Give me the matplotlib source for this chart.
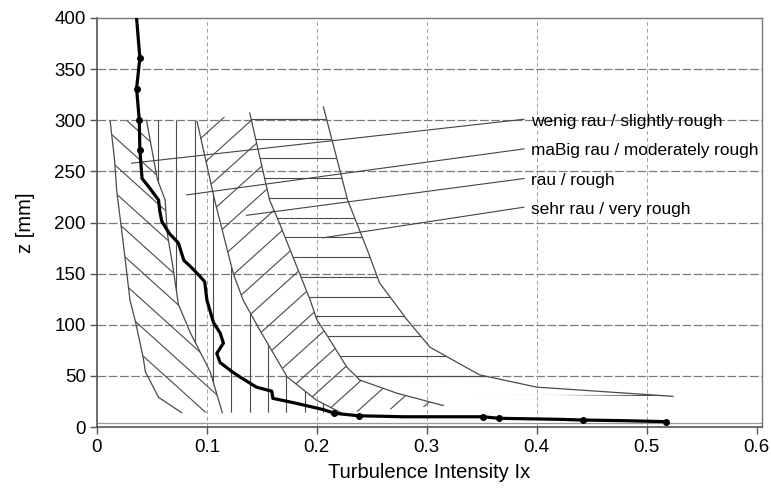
import numpy as np
import matplotlib
matplotlib.use('Agg')
import matplotlib.pyplot as plt
from matplotlib.patches import Polygon
from matplotlib.collections import LineCollection

plt.rcParams['font.family'] = ['Liberation Sans', 'DejaVu Sans']

# Boundary curves of the roughness classes (z [mm], Ix)
z_a = [299, 261, 230, 222, 170, 124, 103, 68, 54, 29, 14]
ix_a = [0.012, 0.016, 0.018, 0.019, 0.025, 0.030, 0.035, 0.042, 0.044, 0.056, 0.077]

z_b = [300, 242, 222, 189, 157, 120, 92, 54, 14]
ix_b = [0.045, 0.055, 0.062, 0.064, 0.069, 0.074, 0.085, 0.103, 0.114]

z_c = [299, 222, 150, 124, 95, 49, 26, 14]
ix_c = [0.091, 0.107, 0.124, 0.133, 0.148, 0.173, 0.200, 0.222]

z_d = [307, 222, 202, 124, 105, 85, 59, 46, 33, 21]
ix_d = [0.139, 0.157, 0.165, 0.194, 0.200, 0.212, 0.227, 0.239, 0.273, 0.315]

z_e = [313, 222, 173, 141, 105, 78, 51, 39, 30]
ix_e = [0.206, 0.228, 0.246, 0.257, 0.282, 0.303, 0.348, 0.400, 0.524]

# Measured profile
ix_meas = [0.036, 0.039, 0.036, 0.0385, 0.039, 0.041, 0.047, 0.056, 0.057,
           0.059, 0.066, 0.074, 0.079, 0.085, 0.094, 0.098, 0.100, 0.106,
           0.112, 0.115, 0.109, 0.112, 0.123, 0.130, 0.145, 0.159, 0.160,
           0.169, 0.182, 0.194, 0.206, 0.216, 0.238, 0.279, 0.351, 0.366,
           0.421, 0.442, 0.479, 0.518]
z_meas = [400, 361, 331, 300, 271, 243, 235, 222, 212,
          201, 189, 180, 163, 157, 147, 142, 124, 102,
          92, 82, 72, 63, 54, 49, 39, 35, 28,
          26, 23, 20, 17, 13.4, 11, 10, 10, 8.5,
          7.5, 6.8, 6.2, 5.2]
ix_dots = [0.039, 0.036, 0.0385, 0.039, 0.216, 0.238, 0.351, 0.366, 0.442, 0.518]
z_dots = [361, 331, 300, 271, 13.4, 11, 10, 8.5, 6.8, 5.2]

labels = ['wenig rau / slightly rough', 'maBig rau / moderately rough',
          'rau / rough', 'sehr rau / very rough']
label_z = [299, 270, 241, 213]
pointer_ix = [0.0315, 0.0815, 0.136, 0.2055]
pointer_z = [258, 227, 207, 185]

xticks = [0, 0.1, 0.2, 0.3, 0.4, 0.5, 0.6]
xticklabels = ['0', '0.1', '0.2', '0.3', '0.4', '0.5', '0.6']
yticks = list(range(0, 401, 50))

line_col = '#4a4a4a'

fig = plt.figure(figsize=(7.71, 4.97), dpi=100)
ax = fig.add_axes([97 / 771, 1 - 427 / 497, 665 / 771, 409 / 497])
ax.set_xlim(0, 0.605)
ax.set_ylim(0, 400)

# grid
for z in range(50, 351, 50):
    ax.axhline(z, color='#7a7a7a', lw=0.9, ls=(0, (7, 2)), zorder=1)
ax.axhline(4, color='#9a9a9a', lw=0.9, zorder=1)
for x in xticks[1:-1]:
    ax.axvline(x, color='#a0a0a0', lw=0.7, ls=(0, (4, 3)), zorder=1)


def region(ix_left, z_left, ix_right, z_right):
    verts = list(zip(ix_left, z_left)) + list(zip(ix_right, z_right))[::-1]
    poly = Polygon(verts, closed=True, fill=False, edgecolor='none')
    ax.add_patch(poly)
    return poly


def hatch(poly, kind, step):
    segs = []
    if kind == '-':
        for z in np.arange(31, 330, step):
            segs.append([(0, z), (0.6, z)])
    elif kind == '|':
        for x in np.arange(0.0555, 0.6, step):
            segs.append([(x, 0), (x, 400)])
    else:
        m = -968 if kind == '\\' else 968
        for c in np.arange(-700, 800, step):
            segs.append([(0, c), (0.6, c + m * 0.6)])
    lc = LineCollection(segs, colors=line_col, linewidths=0.8, zorder=2)
    ax.add_collection(lc)
    lc.set_clip_path(poly)


r1 = region(ix_a, z_a, ix_b, z_b)
r2 = region(ix_b, z_b, ix_c, z_c)
r3 = region(ix_c, z_c, ix_d, z_d)
r4 = region(ix_d[:-1], z_d[:-1], ix_e, z_e)
hatch(r1, '\\', 27)
hatch(r2, '|', 0.0167)
hatch(r3, '/', 27)
hatch(r4, '-', 19.3)

for ix, z in [(ix_a, z_a), (ix_b, z_b), (ix_c, z_c), (ix_d, z_d), (ix_e, z_e)]:
    ax.plot(ix, z, color=line_col, lw=0.9, zorder=3)

# measured profile
ax.plot(ix_meas, z_meas, color='black', lw=2.3, zorder=5, solid_joinstyle='round')
ax.plot(ix_dots, z_dots, 'o', color='black', ms=4, zorder=6)

# labels with leader lines
for text, zl, px, pz in zip(labels, label_z, pointer_ix, pointer_z):
    ax.plot([0.3885, px], [zl + 2, pz], color='#444444', lw=0.8, zorder=4)
    ax.text(0.3945, zl, text, fontsize=12.4, va='center', ha='left', zorder=7)

ax.set_xticks(xticks)
ax.set_xticklabels(xticklabels)
ax.set_yticks(yticks)
ax.tick_params(direction='out', length=5, width=1, color='#555555',
               labelsize=13.5, pad=3)
ax.tick_params(axis='x', pad=4)

for side in ['left', 'bottom']:
    ax.spines[side].set_color('#555555')
    ax.spines[side].set_linewidth(1.2)
for side in ['top', 'right']:
    ax.spines[side].set_color('#777777')
    ax.spines[side].set_linewidth(1.0)

ax.set_xlabel('Turbulence Intensity Ix', fontsize=14.5, labelpad=5)
ax.set_ylabel('z [mm]', fontsize=14.5, labelpad=14)

fig.savefig('out.png', dpi=100)
